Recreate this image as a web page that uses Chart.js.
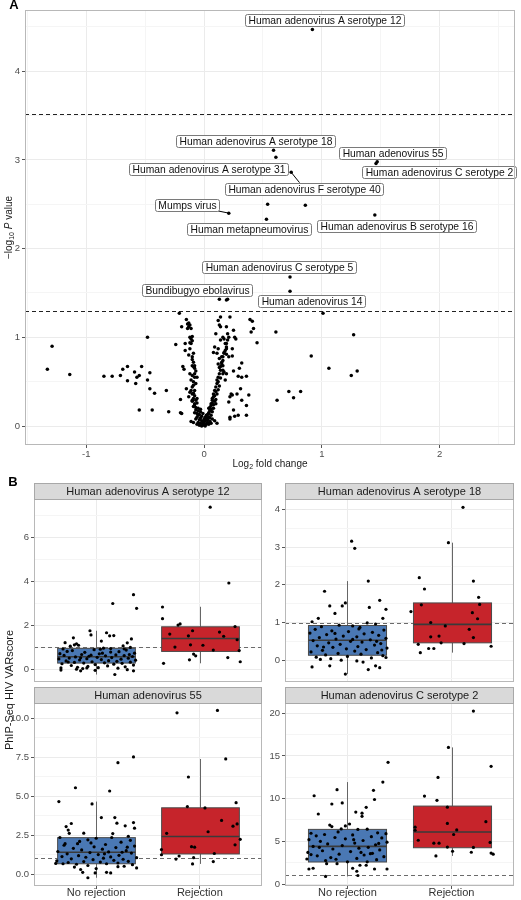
<!DOCTYPE html>
<html>
<head>
<meta charset="utf-8">
<script src="https://cdn.jsdelivr.net/npm/chart.js@4.4.1/dist/chart.umd.min.js"></script>
<style>
  body { margin: 0; background: #fff; width: 521px; height: 900px; position: relative; overflow: hidden; }
  canvas { position: absolute; }
</style>
</head>
<body>
<canvas id="volcano" width="521" height="470" style="left:0;top:0"></canvas>
<canvas id="p1" width="266" height="430" style="left:0;top:470px"></canvas>
<canvas id="p2" width="256" height="220" style="left:265px;top:470px"></canvas>
<canvas id="p3" width="266" height="215" style="left:0;top:685px"></canvas>
<canvas id="p4" width="256" height="215" style="left:265px;top:685px"></canvas>
<script>
// ---- panel A data: [log2 fold change, -log10 P] ----
const volcano = [
  // top hits
  [0.92,4.47],[0.59,3.11],[0.61,3.03],[1.47,2.98],[1.46,2.96],[0.74,2.86],[0.54,2.50],[0.86,2.49],
  [0.21,2.40],[0.53,2.33],[1.45,2.38],[0.73,1.68],[0.73,1.52],[0.13,1.43],[0.19,1.42],[0.20,1.43],[1.01,1.27],
  // left tail
  [-1.29,0.90],[-1.33,0.64],[-1.14,0.58],[-0.85,0.56],[-0.78,0.56],[-0.71,0.57],[-0.69,0.64],[-0.65,0.67],
  [-0.65,0.51],[-0.59,0.61],[-0.57,0.55],[-0.58,0.48],[-0.55,0.57],[-0.53,0.67],[-0.55,0.18],[-0.48,1.00],
  [-0.48,0.52],[-0.46,0.60],[-0.46,0.42],[-0.44,0.18],[-0.42,0.37],[-0.32,0.40],[-0.30,0.16],[-0.24,0.92],
  [-0.21,1.27],[-0.20,0.30],[-0.20,0.15],[-0.19,0.14],
  // left arm
  [-0.19,1.12],[-0.16,0.85],[-0.17,0.64],[-0.15,1.20],[-0.14,1.15],[-0.13,1.12],[-0.12,1.14],[-0.11,1.10],
  [-0.12,1.00],[-0.11,0.98],[-0.10,1.01],[-0.12,0.94],[-0.10,0.96],[-0.13,0.80],[-0.12,0.87],[-0.10,0.78],
  [-0.09,0.82],[-0.11,0.93],[-0.18,0.67],[-0.10,0.68],[-0.09,0.67],[-0.08,0.68],[-0.08,0.65],[-0.12,0.59],
  [-0.10,0.57],[-0.08,0.59],[-0.06,0.55],[-0.11,0.52],[-0.09,0.50],[-0.07,0.48],[-0.15,0.42],[-0.12,0.38],
  [-0.10,0.36],[-0.08,0.40],[-0.13,0.33],[-0.10,0.29],[-0.08,0.25],[-0.06,0.31],[-0.11,0.05],[-0.09,0.04],
  [-0.16,0.93],[-0.14,1.10],[-0.13,1.16],
  // right arm
  [0.01,0.06],[0.02,0.10],[0.04,0.14],[0.05,0.18],[0.05,0.21],[0.06,0.25],[0.07,0.29],[0.08,0.33],
  [0.08,0.36],[0.09,0.40],[0.10,0.44],[0.11,0.48],[0.11,0.52],[0.12,0.55],[0.13,0.59],[0.14,0.63],
  [0.14,0.67],[0.15,0.70],[0.16,0.74],[0.16,0.78],[0.17,0.82],[0.18,0.85],[0.19,0.89],[0.19,0.93],
  [0.20,0.97],[0.21,1.00],[0.08,0.83],[0.09,0.89],[0.11,0.82],[0.12,0.87],[0.14,0.97],[0.10,1.04],
  [0.12,1.19],[0.14,1.23],[0.14,1.12],[0.13,1.14],[0.19,1.12],[0.20,1.04],[0.16,1.00],[0.17,0.98],
  [0.18,0.93],[0.17,0.83],[0.19,0.81],[0.19,0.87],[0.16,0.63],[0.16,0.59],[0.17,0.61],[0.19,0.59],
  [0.18,0.52],[0.22,1.23],[0.25,1.08],[0.26,1.00],[0.27,0.98],[0.24,0.87],[0.24,0.79],[0.21,0.78],
  [0.25,0.62],[0.29,0.56],[0.32,0.71],[0.24,0.35],[0.28,0.36],[0.31,0.42],[0.32,0.29],[0.36,0.23],
  [0.36,0.12],[0.29,0.12],[0.23,0.36],[0.22,0.33],[0.21,0.27],[0.22,0.10],[0.26,0.11],[0.22,0.08],
  [0.25,0.18],[0.39,1.20],[0.41,1.18],[0.42,1.10],[0.40,1.06],[0.45,0.94],[0.36,0.56],[0.38,0.35],
  [0.32,0.55],[0.30,0.65],[0.11,0.03],[0.09,0.06],
  // centre
  [-0.06,0.02],[-0.05,0.04],[-0.04,0.01],[-0.03,0.03],[-0.02,0.00],[-0.01,0.02],[0.00,0.01],[0.01,0.00],
  [0.02,0.02],[0.03,0.04],[0.04,0.02],[0.05,0.05],[0.06,0.03],[-0.07,0.08],[-0.06,0.10],[-0.05,0.12],
  [-0.04,0.07],[-0.03,0.09],[-0.02,0.06],[-0.01,0.05],[0.00,0.04],[0.01,0.06],[0.02,0.08],[0.03,0.07],
  [0.04,0.10],[0.05,0.09],[0.06,0.12],[0.07,0.08],[-0.08,0.15],[-0.07,0.18],[-0.06,0.14],[-0.05,0.17],
  [-0.04,0.13],[-0.03,0.16],[0.03,0.13],[0.04,0.15],[0.05,0.17],[0.06,0.19],[0.07,0.16],[0.08,0.20],
  [-0.09,0.22],[-0.08,0.24],[-0.07,0.21],[-0.06,0.26],[-0.05,0.20],[0.06,0.23],[0.07,0.26],[0.08,0.24],
  [0.09,0.28],[0.10,0.25],[-0.10,0.28],[-0.09,0.31],[-0.08,0.34],[-0.07,0.29],[0.07,0.31],[0.09,0.34],
  [0.10,0.30],[0.11,0.36],[-0.11,0.40],[-0.10,0.44],[-0.09,0.37],[0.12,0.41],[0.13,0.45],[0.10,0.39],
  [-0.02,0.11],[0.01,0.10],[-0.01,0.14],[0.02,0.12],[0.00,0.08],[-0.03,0.19],[0.04,0.20],[-0.09,0.46],
  [-0.08,0.55],[-0.07,0.62],[-0.09,0.72],[-0.10,0.75],[0.12,0.50],[0.14,0.54],[0.13,0.66],[0.15,0.72],
  [0.15,0.78],[0.13,0.76],[0.12,0.70],[0.16,0.68],
  // right tail
  [0.61,1.06],[0.62,0.29],[0.72,0.39],[0.76,0.32],[0.82,0.39],[0.91,0.79],[1.06,0.65],[1.27,1.03],
  [1.25,0.57],[1.30,0.62]
];
const cutoffs = [3.52, 1.30];
const labelNames = [
  'Human adenovirus A serotype 12', 'Human adenovirus A serotype 18', 'Human adenovirus 55',
  'Human adenovirus C serotype 2', 'Human adenovirus A serotype 31', 'Human adenovirus F serotype 40',
  'Mumps virus', 'Human metapneumovirus', 'Human adenovirus B serotype 16',
  'Human adenovirus C serotype 5', 'Bundibugyo ebolavirus', 'Human adenovirus 14'
];
const labelTargets = [
  [0.92,4.47],[0.59,3.11],[1.47,2.98],[1.46,2.96],[0.61,3.03],[0.74,2.86],
  [0.21,2.40],[0.53,2.33],[1.45,2.38],[0.73,1.68],[0.19,1.42],[1.01,1.27]
];

// ---- panel B data: [jitter, VARscore], box stats [lo, q1, median, q3, hi] ----
const groupNames = ['No rejection', 'Rejection'];
const panelTitles = ['Human adenovirus A serotype 12', 'Human adenovirus A serotype 18', 'Human adenovirus 55', 'Human adenovirus C serotype 2'];
const a12NoRej = [
  [0.36,3.38],[0.16,2.98],[0.39,2.76],[-0.06,1.74],[-0.05,1.55],[0.10,1.65],[0.13,1.51],[0.17,1.52],[0.05,1.27],
  [-0.22,1.42],[-0.30,1.20],[0.34,1.37],[0.30,1.19],[-0.19,1.15],[-0.21,1.10],[-0.25,1.04],[-0.17,1.08],[0.26,1.05],
  [0.33,0.98],[0.07,0.95],[0.14,0.93],[-0.02,0.88],[0.29,0.86],[-0.28,0.80],[-0.23,0.84],[-0.11,0.76],[0.22,0.79],
  [0.37,0.72],[-0.35,0.70],[0.03,0.69],[-0.14,0.66],[0.19,0.64],[-0.31,0.62],[0.09,0.60],[0.27,0.61],[-0.07,0.58],
  [0.35,0.57],[-0.20,0.55],[0.01,0.53],[0.15,0.52],[-0.26,0.50],[0.31,0.49],[-0.09,0.47],[0.24,0.45],[-0.36,0.46],
  [0.05,0.43],[-0.16,0.41],[0.38,0.40],[0.12,0.38],[-0.29,0.37],[0.20,0.35],[-0.04,0.33],[0.33,0.31],[-0.21,0.30],
  [0.08,0.28],[-0.12,0.27],[0.25,0.26],[-0.33,0.24],[0.17,0.22],[-0.01,0.20],[0.36,0.18],[-0.24,0.16],[0.11,0.14],
  [-0.08,0.12],[0.28,0.10],[-0.18,0.08],[0.02,0.06],[-0.34,0.05],[0.21,0.04],[-0.13,0.02],[-0.09,0.05],[-0.01,-0.06],
  [0.18,-0.25],[0.36,-0.08],[-0.34,-0.05],[-0.19,-0.01],[-0.15,-0.08],[0.30,-0.03],[-0.27,0.32],[0.06,0.72],
  [-0.05,0.63],[0.32,0.66],[-0.15,0.51],[0.14,0.77],[0.27,0.92],[-0.32,0.91],[0.04,0.90]
];
const a12Rej = [
  [0.10,7.36],[0.28,3.91],[-0.36,2.82],[-0.36,2.29],[-0.21,2.00],[-0.19,2.05],[-0.29,1.59],[-0.11,1.51],
  [-0.07,1.74],[0.19,1.68],[0.23,1.49],[0.34,1.93],[0.36,1.33],[0.38,0.84],[0.13,0.86],[0.03,1.08],
  [-0.09,1.10],[-0.24,1.00],[-0.06,0.68],[-0.35,0.26],[-0.10,0.42],[0.27,0.52],[0.39,0.33],[-0.04,0.60]
];
const a12Box = [[-0.25,0.27,0.56,0.94,1.74], [0.26,0.80,1.39,1.92,2.83]];

const a18NoRej = [
  [0.04,3.16],[0.07,2.97],[0.20,2.10],[-0.22,1.83],[0.31,1.59],[-0.17,1.44],[-0.05,1.44],[-0.02,1.52],[0.21,1.40],
  [0.37,1.35],[-0.12,1.24],[0.34,1.11],[-0.28,1.11],[-0.34,1.02],[0.19,0.99],[0.27,0.96],[-0.08,0.93],[0.05,0.91],
  [-0.25,0.89],[0.12,0.87],[-0.31,0.82],[0.35,0.80],[-0.15,0.78],[0.01,0.76],[0.24,0.74],[-0.36,0.72],[0.16,0.70],
  [-0.20,0.68],[0.30,0.66],[-0.04,0.64],[0.09,0.62],[-0.27,0.60],[0.37,0.58],[-0.11,0.56],[0.22,0.54],[-0.33,0.52],
  [0.03,0.50],[0.14,0.48],[-0.18,0.46],[0.32,0.44],[-0.07,0.42],[0.26,0.40],[-0.29,0.38],[0.10,0.36],[-0.14,0.34],
  [0.38,0.32],[-0.01,0.30],[0.18,0.28],[-0.24,0.26],[0.07,0.24],[-0.35,0.22],[0.29,0.20],[-0.09,0.18],[0.13,0.16],
  [-0.21,0.14],[0.34,0.12],[0.00,0.10],[-0.30,0.08],[0.23,0.06],[-0.16,0.04],[0.37,0.07],[-0.34,-0.18],[-0.17,-0.15],
  [-0.02,-0.37],[0.09,-0.02],[0.20,-0.25],[0.27,-0.15],[0.31,-0.20],[-0.26,0.02],[0.15,-0.05],[-0.06,0.00],
  [0.05,0.55],[-0.12,0.71],[0.28,0.50],[-0.23,0.35],[0.11,0.83],[0.33,0.27]
];
const a18Rej = [
  [0.11,4.06],[-0.03,3.12],[-0.31,2.19],[-0.26,1.89],[0.21,2.10],[0.26,1.67],[0.27,1.48],[-0.29,1.47],
  [-0.39,1.29],[0.20,1.26],[0.25,1.10],[-0.20,1.00],[-0.06,0.91],[0.17,0.82],[0.21,0.60],[-0.12,0.64],
  [-0.20,0.62],[-0.10,0.46],[0.12,0.44],[-0.32,0.42],[-0.22,0.31],[-0.17,0.31],[-0.30,0.20],[0.38,0.37]
];
const a18Box = [[-0.37,0.13,0.53,0.92,2.10], [0.20,0.46,0.95,1.52,3.12]];

const ad55NoRej = [
  [0.36,7.53],[0.21,7.16],[-0.20,5.55],[0.13,5.34],[-0.36,4.66],[-0.04,4.51],[0.05,3.63],[0.18,3.63],[0.20,3.27],
  [0.36,3.31],[-0.24,3.25],[-0.29,3.05],[-0.27,2.83],[0.28,3.10],[0.31,2.43],[-0.26,2.62],[-0.12,2.63],[0.00,2.30],
  [0.15,2.35],[-0.35,2.35],[0.33,2.17],[-0.08,2.20],[0.24,2.05],[-0.18,1.95],[0.09,1.90],[-0.31,1.85],[0.37,1.80],
  [-0.02,1.75],[0.19,1.70],[-0.22,1.65],[0.06,1.60],[-0.14,1.55],[0.29,1.50],[-0.37,1.45],[0.12,1.42],[-0.06,1.38],
  [0.34,1.35],[-0.28,1.30],[0.02,1.25],[0.22,1.20],[-0.17,1.18],[-0.33,1.12],[0.14,1.10],[-0.10,1.08],[0.39,1.05],
  [0.07,1.02],[-0.24,0.98],[0.26,0.95],[-0.03,0.92],[0.17,0.88],[-0.38,0.85],[0.31,0.82],[-0.12,0.80],[0.04,0.77],
  [-0.27,0.74],[0.21,0.71],[-0.39,0.68],[0.10,0.66],[-0.19,0.63],[0.35,0.60],[-0.08,0.55],[0.27,0.50],[-0.32,0.66],
  [0.39,0.39],[0.21,0.47],[-0.15,0.29],[-0.13,0.11],[-0.01,0.07],[0.10,0.11],[0.14,0.07],[-0.08,-0.24],[0.00,0.35],
  [-0.21,0.45],[0.30,1.73],[-0.05,2.00],[0.16,2.60],[0.25,1.40],[-0.30,1.95],[0.08,1.30],[-0.16,2.10],[0.37,2.95]
];
const ad55Rej = [
  [-0.22,10.37],[0.17,10.52],[0.25,7.40],[-0.11,6.24],[-0.12,4.34],[0.05,4.25],[0.35,4.59],[0.21,3.45],
  [0.36,3.22],[0.32,3.08],[0.08,2.72],[-0.32,2.62],[0.39,2.23],[-0.08,1.76],[-0.05,1.73],[0.34,1.88],
  [-0.37,1.57],[-0.37,1.24],[0.14,1.32],[-0.20,1.16],[-0.23,0.96],[-0.06,1.05],[-0.07,0.65],[0.13,0.80]
];
const ad55Box = [[-0.24,0.66,1.40,2.34,4.66], [0.65,1.29,2.41,4.26,7.40]];

const c2NoRej = [
  [0.39,14.25],[0.34,11.94],[0.25,10.97],[0.26,9.90],[-0.32,10.34],[-0.10,11.05],[-0.05,9.50],[-0.15,9.37],
  [0.18,8.98],[0.08,8.43],[0.14,8.30],[0.14,7.93],[-0.28,8.20],[0.02,7.03],[-0.02,6.80],[-0.17,6.90],
  [-0.15,6.73],[0.19,6.42],[0.10,6.40],[-0.09,6.10],[0.29,6.00],[-0.35,5.95],[0.37,5.90],[-0.22,5.80],
  [0.05,5.75],[-0.30,5.65],[0.23,5.55],[-0.12,5.45],[0.33,5.40],[-0.02,5.30],[-0.37,5.20],[0.15,5.10],
  [-0.26,5.00],[0.38,4.90],[0.07,4.80],[-0.19,4.70],[0.27,4.60],[-0.05,4.50],[-0.33,4.40],[0.20,4.30],
  [0.11,4.20],[-0.14,4.10],[0.31,4.00],[-0.24,3.90],[0.03,3.80],[-0.38,3.70],[0.24,3.60],[-0.08,3.50],
  [0.16,3.40],[-0.29,3.30],[0.35,3.20],[-0.16,3.10],[0.09,3.00],[-0.39,2.93],[0.28,2.85],[-0.21,2.75],
  [0.00,2.60],[0.19,2.60],[-0.37,1.76],[-0.33,1.85],[-0.21,0.89],[-0.20,2.38],[-0.10,2.38],[0.05,1.85],
  [0.09,1.50],[0.10,1.00],[0.12,2.20],[0.18,2.20],[0.26,1.76],[0.38,1.76],[0.22,3.55],[-0.27,4.30],
  [0.13,3.70],[-0.06,6.45],[0.30,4.75],[-0.11,2.90],[0.06,5.20],[-0.35,3.45]
];
const c2Rej = [
  [0.21,20.26],[-0.03,16.00],[0.38,13.78],[-0.13,12.49],[-0.26,10.30],[-0.14,9.80],[-0.04,9.00],[0.33,7.30],
  [-0.04,7.10],[0.05,6.34],[0.02,5.80],[-0.35,6.66],[-0.35,6.30],[-0.32,5.13],[-0.17,4.79],[-0.12,4.79],
  [0.37,4.87],[-0.04,4.33],[0.21,4.29],[0.01,3.84],[0.19,3.72],[-0.15,3.29],[0.38,3.63],[0.40,3.50]
];
const c2Box = [[0.89,2.58,4.41,6.40,11.94], [3.29,4.25,6.09,9.13,16.00]];
const refLine = 1;

// ---- styling ----
const FONT = "'Liberation Sans', Arial, sans-serif";
Chart.defaults.font.family = FONT;
const tickGrey = '#4d4d4d';
const groupColors = ['#4a78b4', '#c6242b'];

function stepTicks(min, max, step) {
  const out = [];
  for (let k = Math.ceil(min / step - 1e-9); k * step <= max + 1e-9; k++) out.push({ value: +(k * step).toFixed(4) });
  return out;
}
const onStep = (v, step) => Math.abs(v / step - Math.round(v / step)) < 1e-6;
const gridStyle = major => ({
  color: c => (c.tick && onStep(c.tick.value, major)) ? '#ebebeb' : '#f5f5f5',
  tickColor: c => (c.tick && onStep(c.tick.value, major)) ? '#555' : 'rgba(0,0,0,0)',
  tickLength: 3, lineWidth: 1
});

// text with subscript / italic pieces, centred at (x, y)
function drawRich(ctx, parts, x, y) {
  let w = 0;
  parts.forEach(p => { ctx.font = p.font; p.w = ctx.measureText(p.t).width; w += p.w; });
  let cx = x - w / 2;
  ctx.textAlign = 'left'; ctx.textBaseline = 'middle';
  parts.forEach(p => { ctx.font = p.font; ctx.fillText(p.t, cx, y + (p.dy || 0)); cx += p.w; });
}

function edgePoint(b, px, py) {
  const cx = b.x + b.w / 2, cy = b.y + b.h / 2, dx = px - cx, dy = py - cy;
  const t = Math.min(dx ? (b.w / 2) / Math.abs(dx) : Infinity, dy ? (b.h / 2) / Math.abs(dy) : Infinity);
  return [cx + dx * t, cy + dy * t];
}

// label centres (data coords) and whether a leader segment is drawn
const labelSpots = [
  [1.025,4.575],[0.432,3.217],[1.602,3.082],[1.99,2.868],[0.038,2.901],[0.852,2.676],
  [-0.144,2.496],[0.381,2.225],[1.631,2.254],[0.636,1.792],[-0.055,1.538],[0.915,1.408]
];
const leaders = [false,false,false,false,false,true,true,false,false,false,false,false];

const volcanoDecor = {
  id: 'volcanoDecor',
  beforeDatasetsDraw(chart) {
    const { ctx, chartArea: a, scales: { y } } = chart;
    ctx.save();
    ctx.strokeStyle = '#222'; ctx.lineWidth = 1; ctx.setLineDash([4, 3]);
    cutoffs.forEach(v => {
      const py = Math.round(y.getPixelForValue(v)) + 0.5;
      ctx.beginPath(); ctx.moveTo(a.left, py); ctx.lineTo(a.right, py); ctx.stroke();
    });
    ctx.restore();
  },
  afterDatasetsDraw(chart) {
    const { ctx, scales: { x, y } } = chart;
    ctx.save();
    ctx.font = '10.3px ' + FONT;
    labelNames.forEach((name, i) => {
      const w = ctx.measureText(name).width + 6, h = 12;
      const cx = x.getPixelForValue(labelSpots[i][0]), cy = y.getPixelForValue(labelSpots[i][1]);
      const b = { x: cx - w / 2, y: cy - h / 2, w, h };
      if (leaders[i]) {
        const px = x.getPixelForValue(labelTargets[i][0]), py = y.getPixelForValue(labelTargets[i][1]);
        const [ex, ey] = edgePoint(b, px, py);
        ctx.strokeStyle = '#000'; ctx.lineWidth = 1;
        ctx.beginPath(); ctx.moveTo(ex, ey); ctx.lineTo(px, py); ctx.stroke();
      }
      ctx.fillStyle = '#fff'; ctx.strokeStyle = '#7a7a7a'; ctx.lineWidth = 1;
      ctx.beginPath(); ctx.roundRect(Math.round(b.x) + 0.5, Math.round(b.y) + 0.5, Math.round(w), h, 2);
      ctx.fill(); ctx.stroke();
      ctx.fillStyle = '#111'; ctx.textAlign = 'center'; ctx.textBaseline = 'middle';
      ctx.fillText(name, Math.round(b.x) + 0.5 + Math.round(w) / 2, Math.round(b.y) + 0.5 + h / 2 + 0.5);
    });
    ctx.restore();
  },
  afterDraw(chart) {
    const { ctx, chartArea: a } = chart;
    ctx.save();
    ctx.strokeStyle = '#b8b8b8'; ctx.lineWidth = 1;
    ctx.strokeRect(Math.round(a.left) + 0.5, Math.round(a.top) + 0.5, Math.round(a.width) - 1, Math.round(a.height) - 1);
    ctx.fillStyle = '#1a1a1a';
    drawRich(ctx, [
      { t: 'Log', font: '10px ' + FONT },
      { t: '2', font: '7px ' + FONT, dy: 3 },
      { t: ' fold change', font: '10px ' + FONT }
    ], (a.left + a.right) / 2, 464);
    ctx.translate(9, (a.top + a.bottom) / 2);
    ctx.rotate(-Math.PI / 2);
    drawRich(ctx, [
      { t: '\u2212log', font: '10px ' + FONT },
      { t: '10', font: '7px ' + FONT, dy: 3 },
      { t: ' ', font: '10px ' + FONT },
      { t: 'P', font: 'italic 10px ' + FONT },
      { t: ' value', font: '10px ' + FONT }
    ], 0, 0);
    ctx.setTransform(1, 0, 0, 1, 0, 0);
    ctx.font = 'bold 13px ' + FONT; ctx.textAlign = 'center'; ctx.textBaseline = 'middle';
    ctx.fillStyle = '#000';
    ctx.fillText('A', 14, 5);
    ctx.restore();
  }
};

new Chart(document.getElementById('volcano'), {
  type: 'scatter',
  data: { datasets: [{ data: volcano.map(([x, y]) => ({ x, y })), backgroundColor: '#000', borderWidth: 0, pointRadius: 1.75 }] },
  options: {
    responsive: false, animation: false, events: [],
    layout: { padding: { top: 10, right: 6, left: 0, bottom: 0 } },
    plugins: { legend: { display: false }, tooltip: { enabled: false } },
    scales: {
      x: {
        type: 'linear', min: -1.52, max: 2.64,
        afterBuildTicks: s => { s.ticks = stepTicks(s.min, s.max, 0.5); },
        afterFit: s => { s.height = 25; },
        border: { display: false },
        grid: gridStyle(1),
        ticks: { callback: v => onStep(v, 1) ? String(v) : '', color: tickGrey, font: { size: 9.5 }, padding: 1, maxRotation: 0, autoSkip: false }
      },
      y: {
        type: 'linear', min: -0.214, max: 4.69,
        afterBuildTicks: s => { s.ticks = stepTicks(s.min, s.max, 0.5); },
        afterFit: s => { s.width = 25; },
        border: { display: false },
        grid: gridStyle(1),
        ticks: { callback: v => onStep(v, 1) ? String(v) : '', color: tickGrey, font: { size: 9.5 }, padding: 2, autoSkip: false }
      }
    }
  },
  plugins: [volcanoDecor]
});

// ---- panel B ----
const boxDecor = {
  id: 'boxDecor',
  beforeDatasetsDraw(chart, args, opts) {
    const { ctx, chartArea: a, scales: { x, y } } = chart;
    ctx.save();
    ctx.strokeStyle = '#6b6b6b'; ctx.lineWidth = 1; ctx.setLineDash([4, 3]);
    const ry = Math.round(y.getPixelForValue(refLine)) + 0.5;
    ctx.beginPath(); ctx.moveTo(a.left, ry); ctx.lineTo(a.right, ry); ctx.stroke();
    ctx.setLineDash([]);
    opts.boxes.forEach(([lo, q1, med, q3, hi], g) => {
      const cx = Math.round(x.getPixelForValue(g)) + 0.5;
      const half = x.getPixelForValue(g + 0.375) - x.getPixelForValue(g);
      const Y = v => y.getPixelForValue(v);
      ctx.strokeStyle = '#666'; ctx.lineWidth = 1;
      ctx.beginPath(); ctx.moveTo(cx, Y(lo)); ctx.lineTo(cx, Y(q1)); ctx.moveTo(cx, Y(q3)); ctx.lineTo(cx, Y(hi)); ctx.stroke();
      ctx.fillStyle = groupColors[g];
      ctx.fillRect(cx - half, Y(q3), 2 * half, Y(q1) - Y(q3));
      ctx.strokeStyle = '#4a4a4a';
      ctx.strokeRect(cx - half, Y(q3), 2 * half, Y(q1) - Y(q3));
      ctx.lineWidth = 1.6; ctx.strokeStyle = '#3a3a3a';
      ctx.beginPath(); ctx.moveTo(cx - half, Y(med)); ctx.lineTo(cx + half, Y(med)); ctx.stroke();
    });
    ctx.restore();
  },
  afterDraw(chart, args, opts) {
    const { ctx, chartArea: a } = chart;
    const l = Math.round(a.left) + 0.5, t = Math.round(a.top) + 0.5, w = Math.round(a.width) - 1, h = Math.round(a.height) - 1;
    ctx.save();
    ctx.strokeStyle = '#b8b8b8'; ctx.lineWidth = 1;
    ctx.strokeRect(l, t, w, h);
    ctx.fillStyle = '#d9d9d9';
    ctx.fillRect(l, t - 16, w, 16);
    ctx.strokeStyle = '#a8a8a8';
    ctx.strokeRect(l, t - 16, w, 16);
    ctx.fillStyle = '#1a1a1a'; ctx.font = '11px ' + FONT; ctx.textAlign = 'center'; ctx.textBaseline = 'middle';
    ctx.fillText(opts.title, l + w / 2, t - 7.5);
    if (opts.extras) {
      ctx.font = 'bold 13px ' + FONT; ctx.fillStyle = '#000';
      ctx.fillText('B', 13, 12);
      ctx.translate(10, 220); ctx.rotate(-Math.PI / 2);
      ctx.font = '11px ' + FONT; ctx.fillStyle = '#1a1a1a';
      ctx.fillText('PhIP-Seq HIV VARscore', 0, 0);
    }
    ctx.restore();
  }
};

function makePanel(id, title, groups, boxes, yMin, yMax, major, minor, decimals, bottomRow, yWidth, xHeight, pad, extras) {
  return new Chart(document.getElementById(id), {
    type: 'scatter',
    data: {
      datasets: groups.map((pts, g) => ({
        data: pts.map(([j, v]) => ({ x: g + j, y: v })),
        backgroundColor: '#000', borderWidth: 0, pointRadius: 1.6
      }))
    },
    options: {
      responsive: false, animation: false, events: [],
      layout: { padding: pad },
      plugins: { legend: { display: false }, tooltip: { enabled: false }, boxDecor: { title, boxes, extras } },
      scales: {
        x: {
          type: 'linear', min: -0.6, max: 1.6,
          afterBuildTicks: s => { s.ticks = [{ value: 0 }, { value: 1 }]; },
          afterFit: s => { s.height = xHeight; },
          border: { display: false },
          grid: { color: '#ebebeb', drawTicks: bottomRow, tickLength: 3, tickColor: '#555' },
          ticks: { display: bottomRow, callback: v => groupNames[v] || '', color: '#333', font: { size: 11 }, padding: -3, maxRotation: 0, autoSkip: false }
        },
        y: {
          type: 'linear', min: yMin, max: yMax,
          afterBuildTicks: s => { s.ticks = stepTicks(s.min, s.max, minor); },
          afterFit: s => { s.width = yWidth; },
          border: { display: false },
          grid: gridStyle(major),
          ticks: { callback: v => onStep(v, major) ? v.toFixed(decimals) : '', color: tickGrey, font: { size: 9.5 }, padding: 2, autoSkip: false }
        }
      }
    },
    plugins: [boxDecor]
  });
}

makePanel('p1', panelTitles[0], [a12NoRej, a12Rej], a12Box, -0.59, 7.73, 2, 1, 0, false, 34, 218, { top: 29, right: 1, left: 0, bottom: 0 }, true);
makePanel('p2', panelTitles[1], [a18NoRej, a18Rej], a18Box, -0.58, 4.28, 1, 0.5, 0, false, 20, 8, { top: 29, right: 7, left: 0, bottom: 0 }, false);
makePanel('p3', panelTitles[2], [ad55NoRej, ad55Rej], ad55Box, -0.77, 11.0, 2.5, 1.25, 1, true, 34, 14, { top: 18, right: 1, left: 0, bottom: 0 }, false);
makePanel('p4', panelTitles[3], [c2NoRej, c2Rej], c2Box, -0.23, 21.2, 5, 2.5, 0, true, 20, 14, { top: 18, right: 7, left: 0, bottom: 0 }, false);
</script>
</body>
</html>
